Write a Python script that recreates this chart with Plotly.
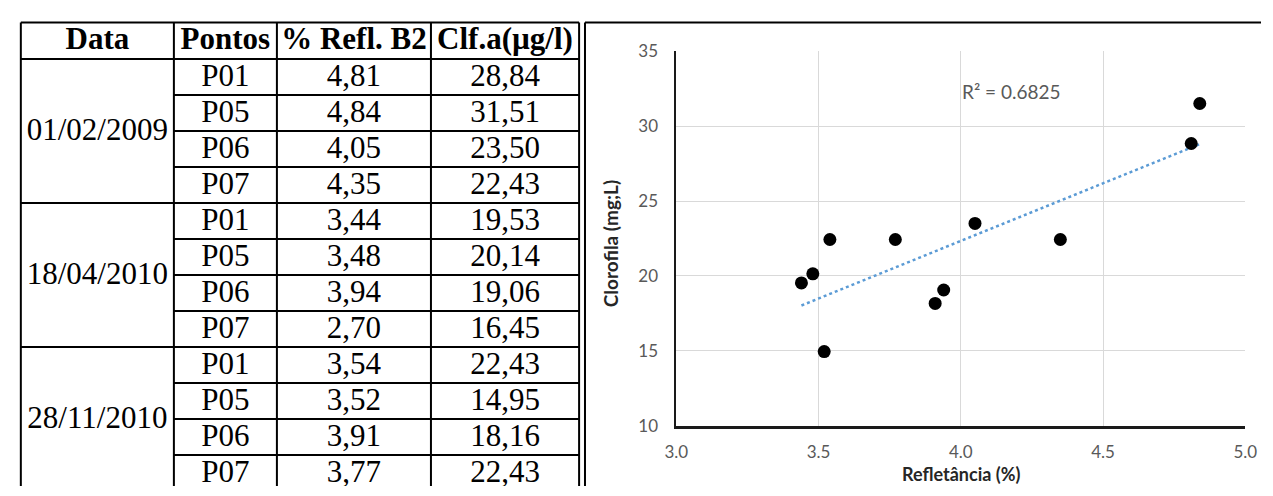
import numpy as np
import plotly.graph_objects as go

# ---------------- data ----------------
headers = ["Data", "Pontos", "% Refl. B2", "Clf.a(µg/l)"]
dates = ["01/02/2009", "18/04/2010", "28/11/2010"]
pontos = ["P01", "P05", "P06", "P07",
          "P01", "P05", "P06", "P07",
          "P01", "P05", "P06", "P07"]
refl = [4.81, 4.84, 4.05, 4.35,
        3.44, 3.48, 3.94, 2.70,
        3.54, 3.52, 3.91, 3.77]
clfa = [28.84, 31.51, 23.50, 22.43,
        19.53, 20.14, 19.06, 16.45,
        22.43, 14.95, 18.16, 22.43]
# samples used in the scatter / regression (2,70 % lies outside the chart)
in_chart = [True, True, True, True,
            True, True, True, False,
            True, True, True, True]
x_ticks = [3.0, 3.5, 4.0, 4.5, 5.0]
y_ticks = [10, 15, 20, 25, 30, 35]
x_title = "Refletância (%)"
y_title = "Clorofila (mg;L)"

# ---------------- geometry / style ----------------
W, H = 1273, 496
T_X0, T_Y0 = 9, 12
COL_W = [156, 105, 157, 151]
HEAD_H = 38
ROW_H = 37.6
LINE_C = "black"
SERIF = "Liberation Serif, Times New Roman, serif"
SANS = "Lato, Calibri, sans-serif"

col_edges = [T_X0]
for w in COL_W:
    col_edges.append(col_edges[-1] + w)
col_c = [(col_edges[i] + col_edges[i + 1]) / 2 for i in range(4)]
row_top = [T_Y0 + HEAD_H + i * ROW_H for i in range(len(pontos) + 1)]
row_c = [(row_top[i] + row_top[i + 1]) / 2 for i in range(len(pontos))]

fmt = lambda v: f"{v:.2f}".replace(".", ",")
px = lambda p: p / W
py = lambda p: 1 - p / H

fig = go.Figure()

# ---------------- table (drawn on hidden axes x2/y2, pixel units) ----------------
fig.add_trace(go.Scatter(
    x=col_c, y=[T_Y0 + HEAD_H / 2 + 1] * 4, text=headers, mode="text",
    textfont=dict(family=SERIF, size=31, color="black", weight="bold"),
    xaxis="x2", yaxis="y2", hoverinfo="skip", showlegend=False))
bx, by, bt = [], [], []
for i in range(len(pontos)):
    for c, txt in zip(col_c[1:], [pontos[i], fmt(refl[i]), fmt(clfa[i])]):
        bx.append(c); by.append(row_c[i] + 1); bt.append(txt)
n_per = len(pontos) // len(dates)
for g, d in enumerate(dates):
    bx.append(col_c[0])
    by.append((row_top[g * n_per] + row_top[(g + 1) * n_per]) / 2 + 1)
    bt.append(d)
fig.add_trace(go.Scatter(
    x=bx, y=by, text=bt, mode="text",
    textfont=dict(family=SERIF, size=31, color="black"),
    xaxis="x2", yaxis="y2", hoverinfo="skip", showlegend=False))

shapes = []
def tline(x0, y0, x1, y1, w=2):
    shapes.append(dict(type="line", xref="x2", yref="y2", x0=x0, y0=y0,
                       x1=x1, y1=y1, line=dict(color=LINE_C, width=w)))

tline(col_edges[0], T_Y0, col_edges[-1], T_Y0)
tline(col_edges[0], T_Y0 + HEAD_H, col_edges[-1], T_Y0 + HEAD_H)
for i in range(1, len(pontos)):
    x0 = col_edges[0] if i % n_per == 0 else col_edges[1]
    tline(x0, row_top[i], col_edges[-1], row_top[i])
for xe in col_edges:
    tline(xe, T_Y0, xe, H + 5)
# chart frame (double line look)
tline(584, T_Y0, 584, H + 5)
tline(584, T_Y0, W + 5, T_Y0)

# ---------------- scatter chart ----------------
xs = np.array([r for r, k in zip(refl, in_chart) if k])
ys = np.array([c for c, k in zip(clfa, in_chart) if k])
slope, inter = np.polyfit(xs, ys, 1)
r2 = np.corrcoef(xs, ys)[0, 1] ** 2
xl = np.array([xs.min(), xs.max()])

fig.add_trace(go.Scatter(
    x=xl, y=slope * xl + inter, mode="lines",
    line=dict(color="#5b9bd5", width=2.5, dash="dot"),
    showlegend=False, hoverinfo="skip"))
fig.add_trace(go.Scatter(
    x=xs, y=ys, mode="markers",
    marker=dict(color="black", size=13),
    showlegend=False))

PX0, PX1, PY0, PY1 = 677, 1257, 42, 433

fig.update_layout(
    autosize=True,
    margin=dict(l=0, r=0, t=0, b=0),
    paper_bgcolor="white", plot_bgcolor="rgba(0,0,0,0)",
    shapes=shapes,
    xaxis=dict(domain=[px(PX0), px(PX1)], range=[3.0, 5.0],
               tickvals=x_ticks, ticktext=[f"{v:.1f}" for v in x_ticks],
               showgrid=True, gridcolor="#d9d9d9", gridwidth=1,
               showline=True, linecolor="#1a1a1a", linewidth=2.5,
               zeroline=False, ticks="", ticklabelstandoff=9,
               ticklabeloverflow="allow",
               tickfont=dict(family=SANS, size=17, color="#595959"),
               anchor="y"),
    yaxis=dict(domain=[py(PY1), py(PY0)], range=[10, 35],
               tickvals=y_ticks,
               showgrid=True, gridcolor="#d9d9d9", gridwidth=1,
               showline=True, linecolor="#1a1a1a", linewidth=1.5,
               zeroline=False, ticks="", ticklabelstandoff=13,
               tickfont=dict(family=SANS, size=17, color="#595959"),
               anchor="x"),
    xaxis2=dict(domain=[0, 1], range=[0, W], visible=False,
                anchor="y2", fixedrange=True),
    yaxis2=dict(domain=[0, 1], range=[H, 0], visible=False,
                anchor="x2", fixedrange=True),
    annotations=[
        dict(text=f"R² = {r2:.4f}", x=4.18, y=32.3, xref="x", yref="y",
             showarrow=False, font=dict(family=SANS, size=19, color="#595959")),
        dict(text=f"<b>{x_title}</b>", x=px((PX0 + PX1) / 2), y=py(483),
             xref="paper", yref="paper", showarrow=False,
             xanchor="center", yanchor="middle",
             font=dict(family=SANS, size=18, color="#262626")),
        dict(text=f"<b>{y_title}</b>", x=px(610), y=py(243),
             xref="paper", yref="paper", showarrow=False, textangle=-90,
             xanchor="center", yanchor="middle",
             font=dict(family=SANS, size=19, color="#262626")),
    ],
)

# the figure div is sized by CSS; a -8px margin cancels the page's default
# 8px body margin so the figure fills the window exactly
fig.write_html("out.html", config={"displayModeBar": False},
               default_width=f"{W}px;margin:-8px", default_height=f"{H}px")
